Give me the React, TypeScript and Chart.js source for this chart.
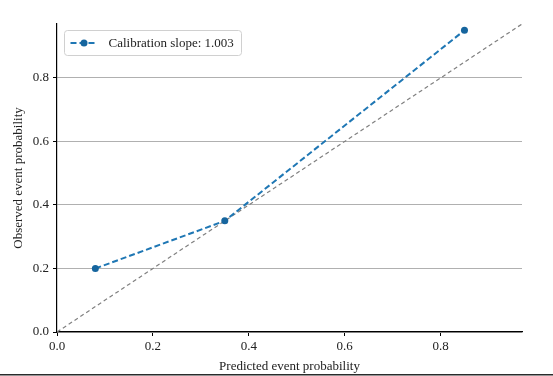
import React, { useEffect, useRef } from "react";
import { Chart, registerables } from "chart.js";

Chart.register(...registerables);

const predicted = [0.08, 0.35, 0.85];
const observed = [0.2, 0.35, 0.95];
const diagonalX = [0, 0.97];
const diagonalY = [0, 0.97];
const xTicks = [0, 0.2, 0.4, 0.6, 0.8];
const yTicks = [0, 0.2, 0.4, 0.6, 0.8];
const axisMax = 0.97;
const seriesLabel = "Calibration slope: 1.003";
const xTitle = "Predicted event probability";
const yTitle = "Observed event probability";

const FONT = "'Liberation Serif', 'DejaVu Serif', serif";
const BLUE = "#1f77b4";
const MARKER = "#16659e";
const DASH = [6, 3];

const legendPlugin = {
  id: "customLegend",
  afterDraw(chart: any) {
    const ctx = chart.ctx;
    const a = chart.chartArea;
    const x = a.left + 7.5;
    const y = a.top + 6.5;
    const w = 177;
    const h = 25;
    ctx.save();
    ctx.beginPath();
    (ctx as any).roundRect(x, y, w, h, 3);
    ctx.fillStyle = "rgba(255,255,255,0.8)";
    ctx.fill();
    ctx.strokeStyle = "#d0d0d0";
    ctx.lineWidth = 1;
    ctx.stroke();
    const cy = y + h / 2;
    ctx.beginPath();
    ctx.setLineDash(DASH);
    ctx.strokeStyle = BLUE;
    ctx.lineWidth = 2;
    ctx.moveTo(x + 6, cy);
    ctx.lineTo(x + 33, cy);
    ctx.stroke();
    ctx.setLineDash([]);
    ctx.beginPath();
    ctx.arc(x + 19.5, cy, 3.5, 0, Math.PI * 2);
    ctx.fillStyle = MARKER;
    ctx.fill();
    ctx.fillStyle = "#222";
    ctx.font = `13px ${FONT}`;
    ctx.textBaseline = "middle";
    ctx.textAlign = "left";
    ctx.fillText(seriesLabel, x + 44, cy + 0.5);
    // bottom frame line
    ctx.fillStyle = "#2a2a2a";
    ctx.fillRect(0, chart.height - 2, chart.width, 1.5);
    ctx.restore();
  },
};

export default function App() {
  const ref = useRef<HTMLCanvasElement | null>(null);
  useEffect(() => {
    if (!ref.current) return;
    const chart = new Chart(ref.current, {
      type: "scatter",
      data: {
        datasets: [
          {
            label: "diagonal",
            data: diagonalX.map((v, i) => ({ x: v, y: diagonalY[i] })),
            showLine: true,
            borderColor: "#808080",
            borderWidth: 1.2,
            borderDash: [4, 3],
            pointRadius: 0,
            order: 2,
          },
          {
            label: seriesLabel,
            data: predicted.map((v, i) => ({ x: v, y: observed[i] })),
            showLine: true,
            borderColor: BLUE,
            borderWidth: 2,
            borderDash: DASH,
            pointRadius: 3.5,
            pointBackgroundColor: MARKER,
            pointBorderColor: MARKER,
            pointBorderWidth: 0,
            order: 1,
          },
        ],
      },
      options: {
        responsive: false,
        animation: false,
        layout: { padding: { left: 0, right: 31, top: 24, bottom: 0 } },
        plugins: { legend: { display: false }, tooltip: { enabled: false } },
        scales: {
          x: {
            type: "linear",
            min: 0,
            max: axisMax,
            afterBuildTicks: (s: any) => {
              s.ticks = xTicks.map((v) => ({ value: v }));
            },
            afterFit: (s: any) => {
              s.height = 44;
            },
            grid: {
              drawOnChartArea: false,
              drawTicks: true,
              tickLength: 4,
              tickColor: "#000",
            },
            border: { color: "#000", width: 1.2 },
            ticks: {
              padding: 3,
              color: "#222",
              font: { family: FONT, size: 13 },
              callback: (v: any) => Number(v).toFixed(1),
              maxRotation: 0,
            },
            title: {
              display: true,
              text: xTitle,
              color: "#222",
              font: { family: FONT, size: 13 },
              padding: { top: 0, bottom: 2 },
            },
          },
          y: {
            type: "linear",
            min: 0,
            max: axisMax,
            afterBuildTicks: (s: any) => {
              s.ticks = yTicks.map((v) => ({ value: v }));
            },
            afterFit: (s: any) => {
              s.width = 57;
            },
            grid: {
              color: "#b0b0b0",
              lineWidth: 1,
              drawTicks: true,
              tickLength: 4,
              tickColor: "#000",
            },
            border: { color: "#000", width: 1.2 },
            ticks: {
              padding: 4,
              color: "#222",
              font: { family: FONT, size: 13 },
              callback: (v: any) => Number(v).toFixed(1),
            },
            title: {
              display: true,
              text: yTitle,
              color: "#222",
              font: { family: FONT, size: 13 },
              padding: { top: 11, bottom: 0 },
            },
          },
        },
      },
      plugins: [legendPlugin],
    } as any);
    return () => chart.destroy();
  }, []);
  return (
    <div style={{ position: "fixed", left: 0, top: 0, width: 553, height: 376, background: "#fff" }}>
      <canvas ref={ref} width={553} height={376} style={{ display: "block" }} />
    </div>
  );
}
